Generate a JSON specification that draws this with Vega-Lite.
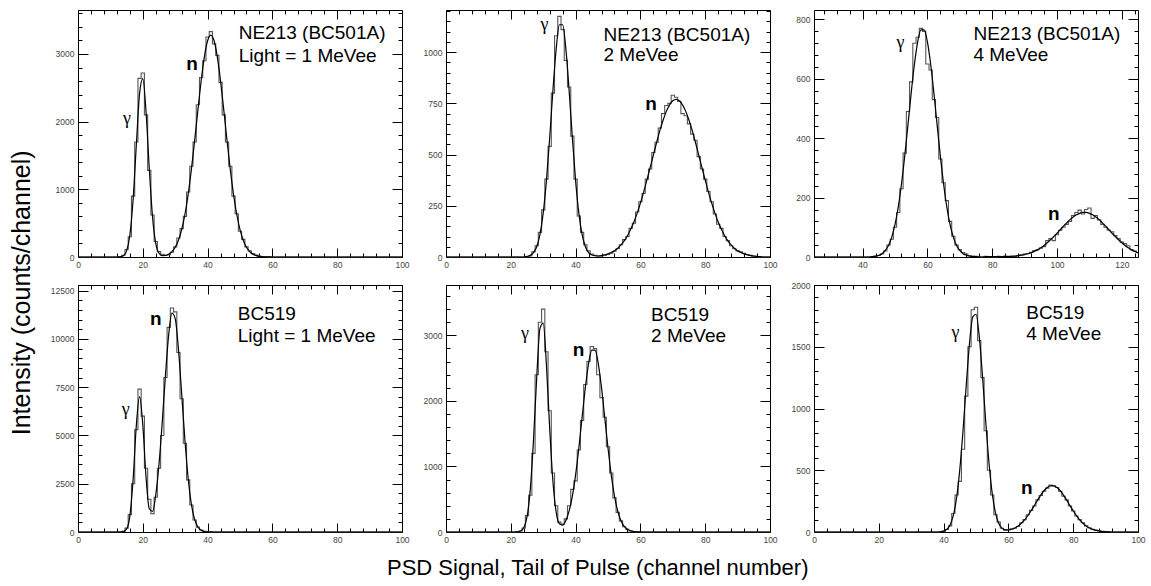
{
"$schema": "https://vega.github.io/schema/vega-lite/v6.json",
"background": "white",
"padding": {"left": 9, "top": 6, "right": 5, "bottom": 3},
"config": {
  "view": {"stroke": "#000", "strokeWidth": 1},
  "axis": {"domain": false, "ticks": false, "tickSize": 0, "grid": true, "gridColor": "#000", "gridOpacity": 1, "gridWidth": 1, "labelFont": "Liberation Sans", "labelFontSize": 8.5, "labelColor": "#444", "labelFlush": false, "labelOverlap": false, "labelPadding": 4, "format": "d"}
},
"datasets": {
"d": [
{"p":1,"c":0,"h":0,"f":0},{"p":1,"c":12,"h":0,"f":0},{"p":1,"c":13,"h":5,"f":3},{"p":1,"c":14,"h":25,"f":19},{"p":1,"c":15,"h":110,"f":91},{"p":1,"c":16,"h":300,"f":321},{"p":1,"c":17,"h":900,"f":843},{"p":1,"c":18,"h":1700,"f":1651},{"p":1,"c":19,"h":2640,"f":2414},{"p":1,"c":20,"h":2720,"f":2635},{"p":1,"c":21,"h":2100,"f":2147},{"p":1,"c":22,"h":1280,"f":1307},{"p":1,"c":23,"h":620,"f":594},{"p":1,"c":24,"h":230,"f":201},{"p":1,"c":25,"h":80,"f":55},{"p":1,"c":26,"h":40,"f":20},{"p":1,"c":27,"h":30,"f":22},{"p":1,"c":28,"h":35,"f":42},{"p":1,"c":29,"h":70,"f":80},{"p":1,"c":30,"h":150,"f":144},{"p":1,"c":31,"h":280,"f":248},{"p":1,"c":32,"h":420,"f":405},{"p":1,"c":33,"h":600,"f":628},{"p":1,"c":34,"h":960,"f":925},{"p":1,"c":35,"h":1340,"f":1294},{"p":1,"c":36,"h":1700,"f":1720},{"p":1,"c":37,"h":2250,"f":2170},{"p":1,"c":38,"h":2650,"f":2600},{"p":1,"c":39,"h":2900,"f":2958},{"p":1,"c":40,"h":3250,"f":3196},{"p":1,"c":41,"h":3330,"f":3280},{"p":1,"c":42,"h":3150,"f":3196},{"p":1,"c":43,"h":2980,"f":2958},{"p":1,"c":44,"h":2580,"f":2600},{"p":1,"c":45,"h":2100,"f":2170},{"p":1,"c":46,"h":1700,"f":1720},{"p":1,"c":47,"h":1340,"f":1294},{"p":1,"c":48,"h":900,"f":925},{"p":1,"c":49,"h":640,"f":628},{"p":1,"c":50,"h":380,"f":405},{"p":1,"c":51,"h":260,"f":248},{"p":1,"c":52,"h":150,"f":144},{"p":1,"c":53,"h":90,"f":80},{"p":1,"c":54,"h":50,"f":42},{"p":1,"c":55,"h":30,"f":21},{"p":1,"c":56,"h":15,"f":10},{"p":1,"c":57,"h":8,"f":4},{"p":1,"c":58,"h":3,"f":2},{"p":1,"c":59,"h":2,"f":1},{"p":1,"c":60,"h":0,"f":0},{"p":1,"c":100,"h":0,"f":0},
{"p":2,"c":0,"h":0,"f":0},{"p":2,"c":24,"h":0,"f":0},{"p":2,"c":25,"h":2,"f":3},{"p":2,"c":26,"h":5,"f":8},{"p":2,"c":27,"h":25,"f":21},{"p":2,"c":28,"h":55,"f":50},{"p":2,"c":29,"h":120,"f":110},{"p":2,"c":30,"h":230,"f":214},{"p":2,"c":31,"h":380,"f":373},{"p":2,"c":32,"h":540,"f":582},{"p":2,"c":33,"h":800,"f":813},{"p":2,"c":34,"h":1080,"f":1015},{"p":2,"c":35,"h":1175,"f":1134},{"p":2,"c":36,"h":1110,"f":1134},{"p":2,"c":37,"h":960,"f":1015},{"p":2,"c":38,"h":830,"f":813},{"p":2,"c":39,"h":590,"f":582},{"p":2,"c":40,"h":380,"f":373},{"p":2,"c":41,"h":200,"f":214},{"p":2,"c":42,"h":120,"f":110},{"p":2,"c":43,"h":60,"f":51},{"p":2,"c":44,"h":30,"f":21},{"p":2,"c":45,"h":15,"f":10},{"p":2,"c":46,"h":8,"f":6},{"p":2,"c":47,"h":5,"f":5},{"p":2,"c":48,"h":5,"f":7},{"p":2,"c":49,"h":8,"f":11},{"p":2,"c":50,"h":12,"f":15},{"p":2,"c":51,"h":18,"f":22},{"p":2,"c":52,"h":28,"f":31},{"p":2,"c":53,"h":40,"f":43},{"p":2,"c":54,"h":60,"f":59},{"p":2,"c":55,"h":85,"f":79},{"p":2,"c":56,"h":100,"f":104},{"p":2,"c":57,"h":140,"f":135},{"p":2,"c":58,"h":165,"f":171},{"p":2,"c":59,"h":220,"f":214},{"p":2,"c":60,"h":270,"f":263},{"p":2,"c":61,"h":310,"f":317},{"p":2,"c":62,"h":380,"f":375},{"p":2,"c":63,"h":430,"f":436},{"p":2,"c":64,"h":510,"f":498},{"p":2,"c":65,"h":560,"f":559},{"p":2,"c":66,"h":630,"f":617},{"p":2,"c":67,"h":700,"f":668},{"p":2,"c":68,"h":740,"f":711},{"p":2,"c":69,"h":750,"f":743},{"p":2,"c":70,"h":790,"f":763},{"p":2,"c":71,"h":780,"f":770},{"p":2,"c":72,"h":760,"f":763},{"p":2,"c":73,"h":700,"f":743},{"p":2,"c":74,"h":690,"f":711},{"p":2,"c":75,"h":650,"f":668},{"p":2,"c":76,"h":600,"f":617},{"p":2,"c":77,"h":570,"f":559},{"p":2,"c":78,"h":490,"f":498},{"p":2,"c":79,"h":430,"f":436},{"p":2,"c":80,"h":380,"f":375},{"p":2,"c":81,"h":320,"f":317},{"p":2,"c":82,"h":270,"f":263},{"p":2,"c":83,"h":210,"f":214},{"p":2,"c":84,"h":160,"f":171},{"p":2,"c":85,"h":140,"f":135},{"p":2,"c":86,"h":100,"f":104},{"p":2,"c":87,"h":80,"f":79},{"p":2,"c":88,"h":55,"f":59},{"p":2,"c":89,"h":40,"f":43},{"p":2,"c":90,"h":30,"f":31},{"p":2,"c":91,"h":25,"f":22},{"p":2,"c":92,"h":18,"f":15},{"p":2,"c":93,"h":12,"f":10},{"p":2,"c":94,"h":8,"f":7},{"p":2,"c":95,"h":4,"f":5},{"p":2,"c":96,"h":2,"f":3},{"p":2,"c":97,"h":0,"f":2},{"p":2,"c":98,"h":0,"f":0},{"p":2,"c":100,"h":0,"f":0},
{"p":3,"c":25,"h":0,"f":0},{"p":3,"c":42,"h":0,"f":0},{"p":3,"c":43,"h":1,"f":1},{"p":3,"c":44,"h":2,"f":3},{"p":3,"c":45,"h":5,"f":6},{"p":3,"c":46,"h":10,"f":11},{"p":3,"c":47,"h":20,"f":22},{"p":3,"c":48,"h":40,"f":39},{"p":3,"c":49,"h":60,"f":67},{"p":3,"c":50,"h":100,"f":109},{"p":3,"c":51,"h":150,"f":168},{"p":3,"c":52,"h":230,"f":246},{"p":3,"c":53,"h":350,"f":340},{"p":3,"c":54,"h":490,"f":445},{"p":3,"c":55,"h":590,"f":553},{"p":3,"c":56,"h":720,"f":650},{"p":3,"c":57,"h":740,"f":725},{"p":3,"c":58,"h":770,"f":765},{"p":3,"c":59,"h":760,"f":765},{"p":3,"c":60,"h":650,"f":725},{"p":3,"c":61,"h":630,"f":650},{"p":3,"c":62,"h":530,"f":553},{"p":3,"c":63,"h":470,"f":445},{"p":3,"c":64,"h":330,"f":340},{"p":3,"c":65,"h":250,"f":246},{"p":3,"c":66,"h":190,"f":168},{"p":3,"c":67,"h":120,"f":109},{"p":3,"c":68,"h":70,"f":67},{"p":3,"c":69,"h":40,"f":39},{"p":3,"c":70,"h":25,"f":22},{"p":3,"c":71,"h":15,"f":11},{"p":3,"c":72,"h":10,"f":6},{"p":3,"c":73,"h":5,"f":3},{"p":3,"c":74,"h":3,"f":1},{"p":3,"c":75,"h":2,"f":1},{"p":3,"c":76,"h":1,"f":0},{"p":3,"c":77,"h":0,"f":0},{"p":3,"c":78,"h":2,"f":1},{"p":3,"c":79,"h":1,"f":1},{"p":3,"c":80,"h":1,"f":1},{"p":3,"c":81,"h":0,"f":1},{"p":3,"c":82,"h":2,"f":1},{"p":3,"c":83,"h":1,"f":1},{"p":3,"c":84,"h":3,"f":1},{"p":3,"c":85,"h":2,"f":1},{"p":3,"c":86,"h":3,"f":2},{"p":3,"c":87,"h":2,"f":3},{"p":3,"c":88,"h":5,"f":4},{"p":3,"c":89,"h":7,"f":6},{"p":3,"c":90,"h":10,"f":8},{"p":3,"c":91,"h":12,"f":11},{"p":3,"c":92,"h":16,"f":14},{"p":3,"c":93,"h":22,"f":19},{"p":3,"c":94,"h":25,"f":24},{"p":3,"c":95,"h":30,"f":31},{"p":3,"c":96,"h":35,"f":39},{"p":3,"c":97,"h":55,"f":48},{"p":3,"c":98,"h":62,"f":58},{"p":3,"c":99,"h":55,"f":69},{"p":3,"c":100,"h":75,"f":80},{"p":3,"c":101,"h":90,"f":92},{"p":3,"c":102,"h":100,"f":104},{"p":3,"c":103,"h":110,"f":115},{"p":3,"c":104,"h":120,"f":126},{"p":3,"c":105,"h":140,"f":135},{"p":3,"c":106,"h":150,"f":142},{"p":3,"c":107,"h":158,"f":147},{"p":3,"c":108,"h":145,"f":150},{"p":3,"c":109,"h":160,"f":150},{"p":3,"c":110,"h":165,"f":147},{"p":3,"c":111,"h":130,"f":142},{"p":3,"c":112,"h":140,"f":135},{"p":3,"c":113,"h":125,"f":126},{"p":3,"c":114,"h":110,"f":115},{"p":3,"c":115,"h":100,"f":104},{"p":3,"c":116,"h":90,"f":92},{"p":3,"c":117,"h":85,"f":80},{"p":3,"c":118,"h":72,"f":69},{"p":3,"c":119,"h":62,"f":58},{"p":3,"c":120,"h":50,"f":48},{"p":3,"c":121,"h":45,"f":39},{"p":3,"c":122,"h":38,"f":31},{"p":3,"c":123,"h":25,"f":24},{"p":3,"c":124,"h":20,"f":19},{"p":3,"c":125,"h":15,"f":14},
{"p":4,"c":0,"h":0,"f":0},{"p":4,"c":12,"h":0,"f":0},{"p":4,"c":13,"h":5,"f":1},{"p":4,"c":14,"h":30,"f":18},{"p":4,"c":15,"h":200,"f":155},{"p":4,"c":16,"h":900,"f":821},{"p":4,"c":17,"h":2500,"f":2700},{"p":4,"c":18,"h":5300,"f":5519},{"p":4,"c":19,"h":7400,"f":7013},{"p":4,"c":20,"h":6000,"f":5562},{"p":4,"c":21,"h":3300,"f":2841},{"p":4,"c":22,"h":1700,"f":1202},{"p":4,"c":23,"h":950,"f":1062},{"p":4,"c":24,"h":1800,"f":1920},{"p":4,"c":25,"h":3300,"f":3508},{"p":4,"c":26,"h":5000,"f":5692},{"p":4,"c":27,"h":8000,"f":8136},{"p":4,"c":28,"h":10600,"f":10235},{"p":4,"c":29,"h":11600,"f":11335},{"p":4,"c":30,"h":11400,"f":11049},{"p":4,"c":31,"h":9300,"f":9481},{"p":4,"c":32,"h":6900,"f":7161},{"p":4,"c":33,"h":4600,"f":4762},{"p":4,"c":34,"h":2700,"f":2786},{"p":4,"c":35,"h":1400,"f":1436},{"p":4,"c":36,"h":620,"f":651},{"p":4,"c":37,"h":250,"f":260},{"p":4,"c":38,"h":100,"f":91},{"p":4,"c":39,"h":40,"f":28},{"p":4,"c":40,"h":10,"f":8},{"p":4,"c":41,"h":0,"f":2},{"p":4,"c":42,"h":0,"f":0},{"p":4,"c":100,"h":0,"f":0},
{"p":5,"c":0,"h":0,"f":0},{"p":5,"c":21,"h":0,"f":0},{"p":5,"c":22,"h":2,"f":2},{"p":5,"c":23,"h":15,"f":14},{"p":5,"c":24,"h":60,"f":64},{"p":5,"c":25,"h":250,"f":231},{"p":5,"c":26,"h":560,"f":643},{"p":5,"c":27,"h":1200,"f":1396},{"p":5,"c":28,"h":2400,"f":2360},{"p":5,"c":29,"h":3200,"f":3107},{"p":5,"c":30,"h":3400,"f":3186},{"p":5,"c":31,"h":2750,"f":2544},{"p":5,"c":32,"h":1850,"f":1585},{"p":5,"c":33,"h":900,"f":773},{"p":5,"c":34,"h":400,"f":306},{"p":5,"c":35,"h":150,"f":125},{"p":5,"c":36,"h":120,"f":105},{"p":5,"c":37,"h":200,"f":176},{"p":5,"c":38,"h":400,"f":321},{"p":5,"c":39,"h":650,"f":548},{"p":5,"c":40,"h":780,"f":872},{"p":5,"c":41,"h":1250,"f":1282},{"p":5,"c":42,"h":1700,"f":1745},{"p":5,"c":43,"h":2250,"f":2200},{"p":5,"c":44,"h":2600,"f":2567},{"p":5,"c":45,"h":2830,"f":2773},{"p":5,"c":46,"h":2800,"f":2773},{"p":5,"c":47,"h":2400,"f":2567},{"p":5,"c":48,"h":2050,"f":2200},{"p":5,"c":49,"h":1750,"f":1745},{"p":5,"c":50,"h":1300,"f":1282},{"p":5,"c":51,"h":900,"f":872},{"p":5,"c":52,"h":520,"f":548},{"p":5,"c":53,"h":300,"f":320},{"p":5,"c":54,"h":170,"f":172},{"p":5,"c":55,"h":80,"f":86},{"p":5,"c":56,"h":40,"f":40},{"p":5,"c":57,"h":15,"f":17},{"p":5,"c":58,"h":5,"f":7},{"p":5,"c":59,"h":2,"f":3},{"p":5,"c":60,"h":0,"f":1},{"p":5,"c":61,"h":0,"f":0},{"p":5,"c":100,"h":0,"f":0},
{"p":6,"c":0,"h":0,"f":0},{"p":6,"c":38,"h":0,"f":0},{"p":6,"c":39,"h":2,"f":2},{"p":6,"c":40,"h":5,"f":7},{"p":6,"c":41,"h":20,"f":22},{"p":6,"c":42,"h":50,"f":57},{"p":6,"c":43,"h":150,"f":134},{"p":6,"c":44,"h":300,"f":276},{"p":6,"c":45,"h":410,"f":506},{"p":6,"c":46,"h":670,"f":824},{"p":6,"c":47,"h":1100,"f":1191},{"p":6,"c":48,"h":1500,"f":1529},{"p":6,"c":49,"h":1800,"f":1742},{"p":6,"c":50,"h":1820,"f":1763},{"p":6,"c":51,"h":1550,"f":1584},{"p":6,"c":52,"h":1250,"f":1264},{"p":6,"c":53,"h":820,"f":895},{"p":6,"c":54,"h":500,"f":563},{"p":6,"c":55,"h":300,"f":314},{"p":6,"c":56,"h":140,"f":157},{"p":6,"c":57,"h":80,"f":71},{"p":6,"c":58,"h":30,"f":31},{"p":6,"c":59,"h":15,"f":17},{"p":6,"c":60,"h":20,"f":16},{"p":6,"c":61,"h":25,"f":22},{"p":6,"c":62,"h":30,"f":33},{"p":6,"c":63,"h":45,"f":49},{"p":6,"c":64,"h":75,"f":71},{"p":6,"c":65,"h":100,"f":99},{"p":6,"c":66,"h":140,"f":133},{"p":6,"c":67,"h":175,"f":172},{"p":6,"c":68,"h":210,"f":214},{"p":6,"c":69,"h":260,"f":258},{"p":6,"c":70,"h":295,"f":299},{"p":6,"c":71,"h":330,"f":334},{"p":6,"c":72,"h":355,"f":360},{"p":6,"c":73,"h":380,"f":373},{"p":6,"c":74,"h":375,"f":373},{"p":6,"c":75,"h":360,"f":360},{"p":6,"c":76,"h":330,"f":334},{"p":6,"c":77,"h":290,"f":299},{"p":6,"c":78,"h":260,"f":258},{"p":6,"c":79,"h":210,"f":214},{"p":6,"c":80,"h":170,"f":172},{"p":6,"c":81,"h":130,"f":133},{"p":6,"c":82,"h":100,"f":99},{"p":6,"c":83,"h":75,"f":71},{"p":6,"c":84,"h":50,"f":49},{"p":6,"c":85,"h":35,"f":33},{"p":6,"c":86,"h":22,"f":21},{"p":6,"c":87,"h":15,"f":13},{"p":6,"c":88,"h":10,"f":8},{"p":6,"c":89,"h":6,"f":4},{"p":6,"c":90,"h":3,"f":3},{"p":6,"c":91,"h":2,"f":1},{"p":6,"c":92,"h":0,"f":0},{"p":6,"c":100,"h":0,"f":0}
],
"t": [
{"p":1,"k":"l","x":49.6,"y":3216,"s":"NE213 (BC501A)"},{"p":1,"k":"l","x":49.6,"y":2887,"s":"Light = 1 MeVee"},{"p":1,"k":"g","x":15.1,"y":2038,"s":"γ"},{"p":1,"k":"n","x":35.2,"y":2848,"s":"n"},
{"p":2,"k":"l","x":48.6,"y":1057,"s":"NE213 (BC501A)"},{"p":2,"k":"l","x":48.6,"y":957,"s":"2 MeVee"},{"p":2,"k":"g","x":30.4,"y":1135,"s":"γ"},{"p":2,"k":"n","x":63.3,"y":745,"s":"n"},
{"p":3,"k":"l","x":74.2,"y":732,"s":"NE213 (BC501A)"},{"p":3,"k":"l","x":74.2,"y":661,"s":"4 MeVee"},{"p":3,"k":"g","x":51.7,"y":720,"s":"γ"},{"p":3,"k":"n","x":99.0,"y":146,"s":"n"},
{"p":4,"k":"l","x":49.3,"y":10983,"s":"BC519"},{"p":4,"k":"l","x":49.3,"y":9860,"s":"Light = 1 MeVee"},{"p":4,"k":"g","x":14.7,"y":6327,"s":"γ"},{"p":4,"k":"n","x":24.0,"y":11035,"s":"n"},
{"p":5,"k":"l","x":63.3,"y":3221,"s":"BC519"},{"p":5,"k":"l","x":63.3,"y":2899,"s":"2 MeVee"},{"p":5,"k":"g","x":24.4,"y":3028,"s":"γ"},{"p":5,"k":"n","x":40.9,"y":2782,"s":"n"},
{"p":6,"k":"l","x":65.5,"y":1722,"s":"BC519"},{"p":6,"k":"l","x":65.5,"y":1555,"s":"4 MeVee"},{"p":6,"k":"g","x":43.7,"y":1609,"s":"γ"},{"p":6,"k":"n","x":65.7,"y":356,"s":"n"}
]
},
"title": {"text": "Intensity (counts/channel)", "orient": "left", "anchor": "middle", "font": "Liberation Sans", "fontSize": 25, "fontWeight": "normal", "color": "#000", "offset": 15},
"vconcat": [{
"title": {"text": "PSD Signal, Tail of Pulse (channel number)", "orient": "bottom", "anchor": "middle", "font": "Liberation Sans", "fontSize": 22, "fontWeight": "normal", "color": "#000", "offset": 14},
"columns": 3,
"spacing": {"row": 28, "column": 44},
"bounds": "flush",
"concat": [
{"width":324,"height":247,"data":{"name":"d"},
 "encoding":{"x":{"field":"c","type":"quantitative","title":null,"scale":{"domain":[0,100],"nice":false,"zero":false},"axis":{"values":[0,4,8,12,16,20,24,28,32,36,40,44,48,52,56,60,64,68,72,76,80,84,88,92,96,100],"labelPadding":3,"labelExpr":"datum.value % 20 === 0 ? datum.label : ''","gridDash":{"condition":{"test":"datum.value % 20 === 0","value":[9,229,9,1000]},"value":[4,239,4,1000]}}},
   "y":{"field":"h","type":"quantitative","title":null,"scale":{"domain":[0,3650],"nice":false},"axis":{"values":[0,200,400,600,800,1000,1200,1400,1600,1800,2000,2200,2400,2600,2800,3000,3200,3400,3600],"labelExpr":"datum.value % 1000 === 0 ? datum.label : ''","gridDash":{"condition":{"test":"datum.value % 1000 === 0","value":[10,304,10,1000]},"value":[4,316,4,1000]}}}},
 "layer":[
  {"transform":[{"filter":"datum.p === 1"}],"mark":{"type":"line","interpolate":"step","stroke":"#555","strokeWidth":1.1}},
  {"transform":[{"filter":"datum.p === 1"}],"mark":{"type":"line","interpolate":"monotone","stroke":"#000","strokeWidth":1.2},"encoding":{"y":{"field":"f","type":"quantitative","title":null}}},
  {"data":{"name":"t"},"transform":[{"filter":"datum.p === 1 && datum.k === 'l'"}],"mark":{"type":"text","align":"left","baseline":"alphabetic","font":"Liberation Sans","fontSize":19,"fill":"#000"},"encoding":{"x":{"field":"x","type":"quantitative","title":null},"y":{"field":"y","type":"quantitative","title":null},"text":{"field":"s"}}},
  {"data":{"name":"t"},"transform":[{"filter":"datum.p === 1 && datum.k === 'n'"}],"mark":{"type":"text","align":"center","baseline":"middle","font":"Liberation Sans","fontSize":19,"fontWeight":"bold","fill":"#000"},"encoding":{"x":{"field":"x","type":"quantitative","title":null},"y":{"field":"y","type":"quantitative","title":null},"text":{"field":"s"}}},
  {"data":{"name":"t"},"transform":[{"filter":"datum.p === 1 && datum.k === 'g'"}],"mark":{"type":"text","align":"center","baseline":"middle","font":"Liberation Serif","fontSize":18,"fill":"#000"},"encoding":{"x":{"field":"x","type":"quantitative","title":null},"y":{"field":"y","type":"quantitative","title":null},"text":{"field":"s"}}}
 ]},
{"width":324,"height":247,"data":{"name":"d"},
 "encoding":{"x":{"field":"c","type":"quantitative","title":null,"scale":{"domain":[0,100],"nice":false,"zero":false},"axis":{"values":[0,4,8,12,16,20,24,28,32,36,40,44,48,52,56,60,64,68,72,76,80,84,88,92,96,100],"labelPadding":3,"labelExpr":"datum.value % 20 === 0 ? datum.label : ''","gridDash":{"condition":{"test":"datum.value % 20 === 0","value":[9,229,9,1000]},"value":[4,239,4,1000]}}},
   "y":{"field":"h","type":"quantitative","title":null,"scale":{"domain":[0,1206],"nice":false},"axis":{"values":[0,50,100,150,200,250,300,350,400,450,500,550,600,650,700,750,800,850,900,950,1000,1050,1100,1150,1200],"labelExpr":"datum.value % 250 === 0 ? datum.label : ''","gridDash":{"condition":{"test":"datum.value % 250 === 0","value":[10,304,10,1000]},"value":[4,316,4,1000]}}}},
 "layer":[
  {"transform":[{"filter":"datum.p === 2"}],"mark":{"type":"line","interpolate":"step","stroke":"#555","strokeWidth":1.1}},
  {"transform":[{"filter":"datum.p === 2"}],"mark":{"type":"line","interpolate":"monotone","stroke":"#000","strokeWidth":1.2},"encoding":{"y":{"field":"f","type":"quantitative","title":null}}},
  {"data":{"name":"t"},"transform":[{"filter":"datum.p === 2 && datum.k === 'l'"}],"mark":{"type":"text","align":"left","baseline":"alphabetic","font":"Liberation Sans","fontSize":19,"fill":"#000"},"encoding":{"x":{"field":"x","type":"quantitative","title":null},"y":{"field":"y","type":"quantitative","title":null},"text":{"field":"s"}}},
  {"data":{"name":"t"},"transform":[{"filter":"datum.p === 2 && datum.k === 'n'"}],"mark":{"type":"text","align":"center","baseline":"middle","font":"Liberation Sans","fontSize":19,"fontWeight":"bold","fill":"#000"},"encoding":{"x":{"field":"x","type":"quantitative","title":null},"y":{"field":"y","type":"quantitative","title":null},"text":{"field":"s"}}},
  {"data":{"name":"t"},"transform":[{"filter":"datum.p === 2 && datum.k === 'g'"}],"mark":{"type":"text","align":"center","baseline":"middle","font":"Liberation Serif","fontSize":18,"fill":"#000"},"encoding":{"x":{"field":"x","type":"quantitative","title":null},"y":{"field":"y","type":"quantitative","title":null},"text":{"field":"s"}}}
 ]},
{"width":324,"height":247,"data":{"name":"d"},
 "encoding":{"x":{"field":"c","type":"quantitative","title":null,"scale":{"domain":[25,125],"nice":false,"zero":false},"axis":{"values":[28,32,36,40,44,48,52,56,60,64,68,72,76,80,84,88,92,96,100,104,108,112,116,120,124],"labelPadding":3,"labelExpr":"datum.value % 20 === 0 ? datum.label : ''","gridDash":{"condition":{"test":"datum.value % 20 === 0","value":[9,229,9,1000]},"value":[4,239,4,1000]}}},
   "y":{"field":"h","type":"quantitative","title":null,"scale":{"domain":[0,832],"nice":false},"axis":{"values":[0,40,80,120,160,200,240,280,320,360,400,440,480,520,560,600,640,680,720,760,800],"labelExpr":"datum.value % 200 === 0 ? datum.label : ''","gridDash":{"condition":{"test":"datum.value % 200 === 0","value":[10,304,10,1000]},"value":[4,316,4,1000]}}}},
 "layer":[
  {"transform":[{"filter":"datum.p === 3"}],"mark":{"type":"line","interpolate":"step","stroke":"#555","strokeWidth":1.1}},
  {"transform":[{"filter":"datum.p === 3"}],"mark":{"type":"line","interpolate":"monotone","stroke":"#000","strokeWidth":1.2},"encoding":{"y":{"field":"f","type":"quantitative","title":null}}},
  {"data":{"name":"t"},"transform":[{"filter":"datum.p === 3 && datum.k === 'l'"}],"mark":{"type":"text","align":"left","baseline":"alphabetic","font":"Liberation Sans","fontSize":19,"fill":"#000"},"encoding":{"x":{"field":"x","type":"quantitative","title":null},"y":{"field":"y","type":"quantitative","title":null},"text":{"field":"s"}}},
  {"data":{"name":"t"},"transform":[{"filter":"datum.p === 3 && datum.k === 'n'"}],"mark":{"type":"text","align":"center","baseline":"middle","font":"Liberation Sans","fontSize":19,"fontWeight":"bold","fill":"#000"},"encoding":{"x":{"field":"x","type":"quantitative","title":null},"y":{"field":"y","type":"quantitative","title":null},"text":{"field":"s"}}},
  {"data":{"name":"t"},"transform":[{"filter":"datum.p === 3 && datum.k === 'g'"}],"mark":{"type":"text","align":"center","baseline":"middle","font":"Liberation Serif","fontSize":18,"fill":"#000"},"encoding":{"x":{"field":"x","type":"quantitative","title":null},"y":{"field":"y","type":"quantitative","title":null},"text":{"field":"s"}}}
 ]},
{"width":324,"height":247,"data":{"name":"d"},
 "encoding":{"x":{"field":"c","type":"quantitative","title":null,"scale":{"domain":[0,100],"nice":false,"zero":false},"axis":{"values":[0,4,8,12,16,20,24,28,32,36,40,44,48,52,56,60,64,68,72,76,80,84,88,92,96,100],"labelPadding":3,"labelExpr":"datum.value % 20 === 0 ? datum.label : ''","gridDash":{"condition":{"test":"datum.value % 20 === 0","value":[9,229,9,1000]},"value":[4,239,4,1000]}}},
   "y":{"field":"h","type":"quantitative","title":null,"scale":{"domain":[0,12794],"nice":false},"axis":{"values":[0,500,1000,1500,2000,2500,3000,3500,4000,4500,5000,5500,6000,6500,7000,7500,8000,8500,9000,9500,10000,10500,11000,11500,12000,12500],"labelExpr":"datum.value % 2500 === 0 ? datum.label : ''","gridDash":{"condition":{"test":"datum.value % 2500 === 0","value":[10,304,10,1000]},"value":[4,316,4,1000]}}}},
 "layer":[
  {"transform":[{"filter":"datum.p === 4"}],"mark":{"type":"line","interpolate":"step","stroke":"#555","strokeWidth":1.1}},
  {"transform":[{"filter":"datum.p === 4"}],"mark":{"type":"line","interpolate":"monotone","stroke":"#000","strokeWidth":1.2},"encoding":{"y":{"field":"f","type":"quantitative","title":null}}},
  {"data":{"name":"t"},"transform":[{"filter":"datum.p === 4 && datum.k === 'l'"}],"mark":{"type":"text","align":"left","baseline":"alphabetic","font":"Liberation Sans","fontSize":19,"fill":"#000"},"encoding":{"x":{"field":"x","type":"quantitative","title":null},"y":{"field":"y","type":"quantitative","title":null},"text":{"field":"s"}}},
  {"data":{"name":"t"},"transform":[{"filter":"datum.p === 4 && datum.k === 'n'"}],"mark":{"type":"text","align":"center","baseline":"middle","font":"Liberation Sans","fontSize":19,"fontWeight":"bold","fill":"#000"},"encoding":{"x":{"field":"x","type":"quantitative","title":null},"y":{"field":"y","type":"quantitative","title":null},"text":{"field":"s"}}},
  {"data":{"name":"t"},"transform":[{"filter":"datum.p === 4 && datum.k === 'g'"}],"mark":{"type":"text","align":"center","baseline":"middle","font":"Liberation Serif","fontSize":18,"fill":"#000"},"encoding":{"x":{"field":"x","type":"quantitative","title":null},"y":{"field":"y","type":"quantitative","title":null},"text":{"field":"s"}}}
 ]},
{"width":324,"height":247,"data":{"name":"d"},
 "encoding":{"x":{"field":"c","type":"quantitative","title":null,"scale":{"domain":[0,100],"nice":false,"zero":false},"axis":{"values":[0,4,8,12,16,20,24,28,32,36,40,44,48,52,56,60,64,68,72,76,80,84,88,92,96,100],"labelPadding":3,"labelExpr":"datum.value % 20 === 0 ? datum.label : ''","gridDash":{"condition":{"test":"datum.value % 20 === 0","value":[9,229,9,1000]},"value":[4,239,4,1000]}}},
   "y":{"field":"h","type":"quantitative","title":null,"scale":{"domain":[0,3768],"nice":false},"axis":{"values":[0,200,400,600,800,1000,1200,1400,1600,1800,2000,2200,2400,2600,2800,3000,3200,3400,3600],"labelExpr":"datum.value % 1000 === 0 ? datum.label : ''","gridDash":{"condition":{"test":"datum.value % 1000 === 0","value":[10,304,10,1000]},"value":[4,316,4,1000]}}}},
 "layer":[
  {"transform":[{"filter":"datum.p === 5"}],"mark":{"type":"line","interpolate":"step","stroke":"#555","strokeWidth":1.1}},
  {"transform":[{"filter":"datum.p === 5"}],"mark":{"type":"line","interpolate":"monotone","stroke":"#000","strokeWidth":1.2},"encoding":{"y":{"field":"f","type":"quantitative","title":null}}},
  {"data":{"name":"t"},"transform":[{"filter":"datum.p === 5 && datum.k === 'l'"}],"mark":{"type":"text","align":"left","baseline":"alphabetic","font":"Liberation Sans","fontSize":19,"fill":"#000"},"encoding":{"x":{"field":"x","type":"quantitative","title":null},"y":{"field":"y","type":"quantitative","title":null},"text":{"field":"s"}}},
  {"data":{"name":"t"},"transform":[{"filter":"datum.p === 5 && datum.k === 'n'"}],"mark":{"type":"text","align":"center","baseline":"middle","font":"Liberation Sans","fontSize":19,"fontWeight":"bold","fill":"#000"},"encoding":{"x":{"field":"x","type":"quantitative","title":null},"y":{"field":"y","type":"quantitative","title":null},"text":{"field":"s"}}},
  {"data":{"name":"t"},"transform":[{"filter":"datum.p === 5 && datum.k === 'g'"}],"mark":{"type":"text","align":"center","baseline":"middle","font":"Liberation Serif","fontSize":18,"fill":"#000"},"encoding":{"x":{"field":"x","type":"quantitative","title":null},"y":{"field":"y","type":"quantitative","title":null},"text":{"field":"s"}}}
 ]},
{"width":324,"height":247,"data":{"name":"d"},
 "encoding":{"x":{"field":"c","type":"quantitative","title":null,"scale":{"domain":[0,100],"nice":false,"zero":false},"axis":{"values":[0,4,8,12,16,20,24,28,32,36,40,44,48,52,56,60,64,68,72,76,80,84,88,92,96,100],"labelPadding":3,"labelExpr":"datum.value % 20 === 0 ? datum.label : ''","gridDash":{"condition":{"test":"datum.value % 20 === 0","value":[9,229,9,1000]},"value":[4,239,4,1000]}}},
   "y":{"field":"h","type":"quantitative","title":null,"scale":{"domain":[0,2000],"nice":false},"axis":{"values":[0,100,200,300,400,500,600,700,800,900,1000,1100,1200,1300,1400,1500,1600,1700,1800,1900,2000],"labelExpr":"datum.value % 500 === 0 ? datum.label : ''","gridDash":{"condition":{"test":"datum.value % 500 === 0","value":[10,304,10,1000]},"value":[4,316,4,1000]}}}},
 "layer":[
  {"transform":[{"filter":"datum.p === 6"}],"mark":{"type":"line","interpolate":"step","stroke":"#555","strokeWidth":1.1}},
  {"transform":[{"filter":"datum.p === 6"}],"mark":{"type":"line","interpolate":"monotone","stroke":"#000","strokeWidth":1.2},"encoding":{"y":{"field":"f","type":"quantitative","title":null}}},
  {"data":{"name":"t"},"transform":[{"filter":"datum.p === 6 && datum.k === 'l'"}],"mark":{"type":"text","align":"left","baseline":"alphabetic","font":"Liberation Sans","fontSize":19,"fill":"#000"},"encoding":{"x":{"field":"x","type":"quantitative","title":null},"y":{"field":"y","type":"quantitative","title":null},"text":{"field":"s"}}},
  {"data":{"name":"t"},"transform":[{"filter":"datum.p === 6 && datum.k === 'n'"}],"mark":{"type":"text","align":"center","baseline":"middle","font":"Liberation Sans","fontSize":19,"fontWeight":"bold","fill":"#000"},"encoding":{"x":{"field":"x","type":"quantitative","title":null},"y":{"field":"y","type":"quantitative","title":null},"text":{"field":"s"}}},
  {"data":{"name":"t"},"transform":[{"filter":"datum.p === 6 && datum.k === 'g'"}],"mark":{"type":"text","align":"center","baseline":"middle","font":"Liberation Serif","fontSize":18,"fill":"#000"},"encoding":{"x":{"field":"x","type":"quantitative","title":null},"y":{"field":"y","type":"quantitative","title":null},"text":{"field":"s"}}}
 ]}
]
}]
}
